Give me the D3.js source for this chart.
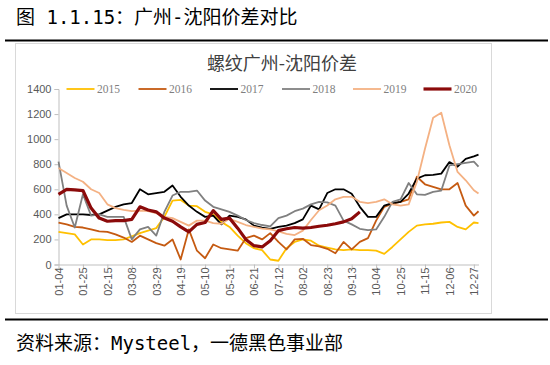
<!DOCTYPE html>
<html>
<head>
<meta charset="utf-8">
<script src="https://cdn.jsdelivr.net/npm/d3@7"></script>
<style>
  body { margin: 0; background: #fff; }
  svg text { font-family: "Liberation Sans", Arial, sans-serif; }
</style>
</head>
<body>
<div id="main"></div>
<script>
// sample dates (weekly, mm-dd)
var dates = ["01-04","01-11","01-18","01-25","02-01","02-08","02-15","02-22","03-01","03-08",
  "03-15","03-22","03-29","04-05","04-12","04-19","04-26","05-03","05-10","05-17",
  "05-24","05-31","06-07","06-14","06-21","06-28","07-05","07-12","07-19","07-26",
  "08-02","08-09","08-16","08-23","08-30","09-06","09-13","09-20","09-27","10-04",
  "10-11","10-18","10-25","11-01","11-08","11-15","11-22","11-29","12-06","12-13",
  "12-20","12-27","12-31"];

var tickLabels = ["01-04","01-25","02-15","03-08","03-29","04-19","05-10","05-31","06-21",
  "07-12","08-02","08-23","09-13","10-04","10-25","11-15","12-06","12-27"];

var yTicks = [0, 200, 400, 600, 800, 1000, 1200, 1400];

var y2015 = [260,250,240,160,200,200,195,195,200,225,250,270,290,380,510,515,470,465,420,400,
  340,300,230,170,130,114,40,30,130,180,200,190,150,135,120,115,120,115,115,110,
  85,140,200,260,310,320,325,335,340,300,280,335,330];
var y2016 = [335,320,300,295,280,265,260,240,215,180,230,200,170,150,200,40,280,110,50,160,
  130,120,110,210,230,200,250,180,120,200,205,155,145,125,90,180,120,180,210,350,
  460,485,500,520,700,640,620,600,600,650,470,390,425];
var y2017 = [370,400,400,400,395,400,430,460,480,490,600,560,570,580,630,540,470,420,380,390,
  320,390,380,360,310,295,285,300,310,330,360,470,440,570,600,600,565,460,380,380,
  470,490,500,566,685,712,715,725,817,780,843,862,876];
var y2018 = [820,470,295,560,390,400,380,380,380,200,280,300,230,420,550,580,580,590,510,460,
  440,420,390,355,330,315,305,370,390,425,446,480,500,495,470,350,320,285,275,280,
  380,500,520,650,560,555,580,590,790,800,810,820,780];
var y2019 = [770,730,690,660,600,570,480,450,435,425,430,425,410,380,370,340,310,350,350,330,
  325,365,340,315,300,287,280,265,245,235,270,355,433,470,520,540,540,500,490,500,
  520,480,470,480,658,924,1170,1210,951,738,672,592,566];
var y2020 = [560,600,595,590,450,370,345,350,350,360,460,435,420,370,345,300,260,320,335,430,
  360,370,290,200,150,140,190,270,285,295,290,295,305,313,325,340,365,420];

var years = ["2015","2016","2017","2018","2019","2020"];
var seriesValues = [y2015, y2016, y2017, y2018, y2019, y2020];
var colors = ["#FFC000", "#C55A11", "#000000", "#808080", "#F4B183", "#8B0A0A"];
var widths = [1.8, 1.8, 1.8, 1.8, 1.8, 3.2];

var W = 550, H = 365;
var parse = d3.timeParse("%Y-%m-%d");
function toDate(s) { return parse("2019-" + s); }

var svg = d3.select("#main").append("svg")
    .attr("width", W)
    .attr("height", H);

// heading and source text
svg.append("text")
    .attr("x", 16).attr("y", 24)
    .style("font-family", "'DejaVu Sans Mono', 'Noto Sans CJK SC', monospace")
    .style("font-size", "19px")
    .attr("fill", "#000")
    .text("图 1.1.15：广州-沈阳价差对比");

svg.append("rect")
    .attr("x", 5).attr("y", 39.5).attr("width", 543).attr("height", 2)
    .attr("fill", "#000");
svg.append("rect")
    .attr("x", 5).attr("y", 318.5).attr("width", 543).attr("height", 2)
    .attr("fill", "#000");

svg.append("text")
    .attr("x", 16).attr("y", 350)
    .style("font-family", "'DejaVu Sans Mono', 'Noto Sans CJK SC', monospace")
    .style("font-size", "19px")
    .attr("fill", "#000")
    .text("资料来源：Mysteel，一德黑色事业部");

// chart frame
svg.append("rect")
    .attr("x", 15.5).attr("y", 43.5).attr("width", 476).attr("height", 270)
    .attr("fill", "#fff")
    .attr("stroke", "#d9d9d9");

svg.append("text")
    .attr("x", 282).attr("y", 70)
    .attr("text-anchor", "middle")
    .style("font-family", "'Noto Sans CJK SC', sans-serif")
    .style("font-size", "18px")
    .attr("fill", "#404040")
    .text("螺纹广州-沈阳价差");

var x = d3.scaleTime()
    .domain([toDate("01-04"), toDate("12-31")])
    .range([58.5, 478.5]);

var y = d3.scaleLinear()
    .domain([0, 1400])
    .range([264.5, 89]);

// y axis
var yAxis = svg.append("g")
    .attr("transform", "translate(58.5,0)")
    .call(d3.axisLeft(y).tickValues(yTicks).tickSize(4).tickPadding(3).tickFormat(d3.format("d")));
yAxis.select(".domain").attr("stroke", "#bfbfbf");
yAxis.selectAll(".tick line").attr("stroke", "#bfbfbf");
yAxis.selectAll(".tick text")
    .attr("fill", "#595959")
    .style("font-size", "11px");

// x axis
var xAxis = svg.append("g")
    .attr("transform", "translate(0,264.5)")
    .call(d3.axisBottom(x)
        .tickValues(tickLabels.map(toDate))
        .tickSize(4)
        .tickSizeOuter(0)
        .tickFormat(d3.timeFormat("%m-%d")));
xAxis.select(".domain").attr("stroke", "#bfbfbf");
xAxis.selectAll(".tick line").attr("stroke", "#bfbfbf");
xAxis.selectAll(".tick text")
    .attr("fill", "#595959")
    .style("font-size", "11px")
    .attr("text-anchor", "end")
    .attr("dy", "0.35em")
    .attr("transform", "translate(0,3) rotate(-90)")
    .attr("x", 0)
    .attr("y", 0);

// lines
var line = d3.line()
    .defined(function (d) { return d.v != null; })
    .x(function (d) { return x(d.date); })
    .y(function (d) { return y(d.v); });

years.forEach(function (yr, i) {
    var pts = seriesValues[i].map(function (v, j) {
        return { date: toDate(dates[j]), v: v };
    });
    svg.append("path")
        .datum(pts)
        .attr("fill", "none")
        .attr("stroke", colors[i])
        .attr("stroke-width", widths[i])
        .attr("stroke-linejoin", "round")
        .attr("d", line);
});

// legend
var legendX = [66.5, 138.5, 210, 282, 353, 423.5];
years.forEach(function (yr, i) {
    var g = svg.append("g").attr("transform", "translate(" + legendX[i] + ",89)");
    g.append("line")
        .attr("x1", 0).attr("x2", 28)
        .attr("stroke", colors[i])
        .attr("stroke-width", widths[i]);
    g.append("text")
        .attr("x", 30.5).attr("dy", "0.35em")
        .style("font-family", "'Liberation Serif', serif")
        .style("font-size", "11.5px")
        .attr("fill", "#7f7f7f")
        .text(yr);
});
</script>
</body>
</html>
